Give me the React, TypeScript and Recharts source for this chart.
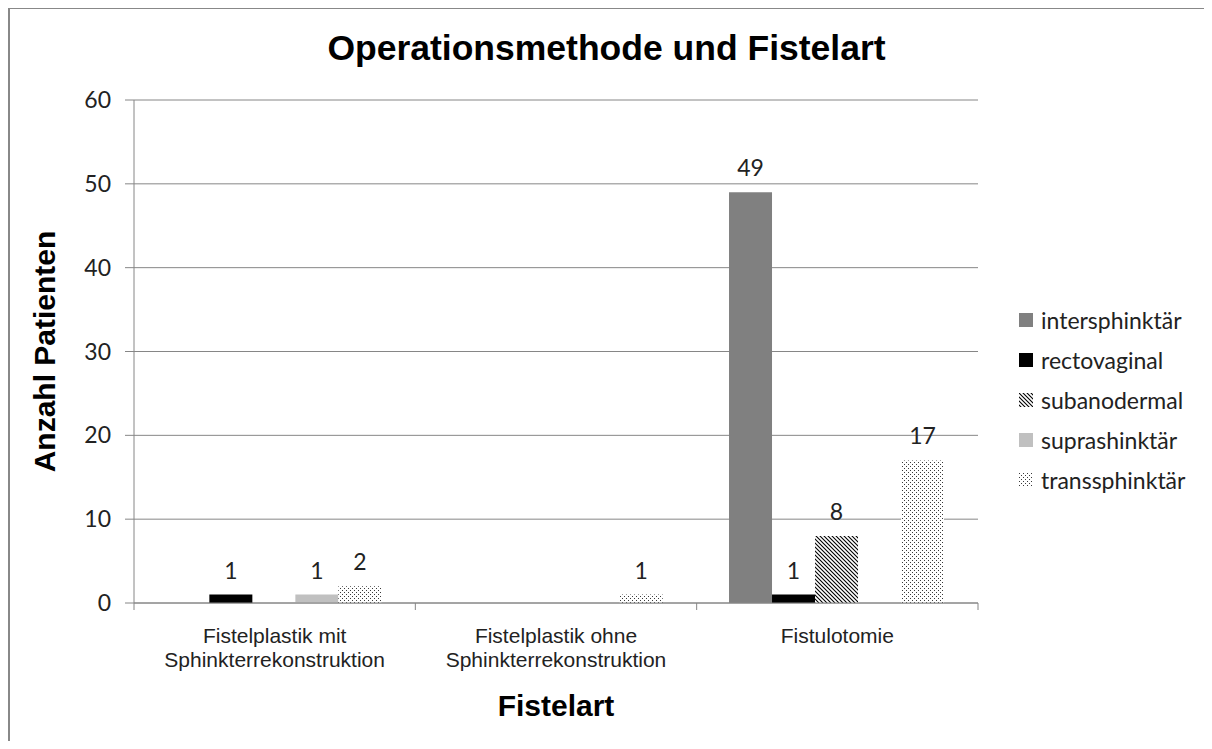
import React from 'react';
import { BarChart, Bar, XAxis, YAxis, CartesianGrid, Legend, LabelList } from 'recharts';

// Fistelart categories (x axis), line break where the original wraps
const categories = [
  'Fistelplastik mit\nSphinkterrekonstruktion',
  'Fistelplastik ohne\nSphinkterrekonstruktion',
  'Fistulotomie',
];

// patients per category, null = no entry in the source table
const intersphinktaer = [null, null, 49];
const rectovaginal = [1, null, 1];
const subanodermal = [null, null, 8];
const suprashinktaer = [1, null, null];
const transsphinktaer = [2, 1, 17];

const yTicks = [0, 10, 20, 30, 40, 50, 60];

const series = [
  { key: 'intersphinktär', values: intersphinktaer, fill: '#808080' },
  { key: 'rectovaginal', values: rectovaginal, fill: '#000000' },
  { key: 'subanodermal', values: subanodermal, fill: 'url(#hatch)' },
  { key: 'suprashinktär', values: suprashinktaer, fill: '#c0c0c0' },
  { key: 'transsphinktär', values: transsphinktaer, fill: 'url(#dots)' },
];

const data = categories.map((name, i) => {
  const row: any = { name };
  series.forEach((s) => {
    row[s.key] = s.values[i];
  });
  return row;
});

const GRID = '#868686';
const TEXT = '#222222';
const CALIBRI = 'Lato, "Open Sans", sans-serif';
const ARIAL = '"Liberation Sans", Arial, sans-serif';

const PatternDefs = () => (
  <defs>
    <pattern id="hatch" patternUnits="userSpaceOnUse" width="4" height="4">
      <rect width="4" height="4" fill="#ffffff" />
      <path d="M-1,-1 L5,5 M3,-1 L5,1 M-1,3 L1,5" stroke="#000" strokeWidth="1.1" />
    </pattern>
    <pattern id="dots" patternUnits="userSpaceOnUse" width="4" height="4">
      <rect width="4" height="4" fill="#ffffff" />
      <rect x="0" y="0" width="1" height="1" fill="#3a3a3a" />
      <rect x="2" y="2" width="1" height="1" fill="#3a3a3a" />
    </pattern>
  </defs>
);

// x tick: two-line label plus the tick marks at the category borders
const CategoryTick = (props: any) => {
  const { x, y, payload, index, visibleTicksCount, width } = props;
  const half = payload.offset || width / visibleTicksCount / 2;
  const lines = String(payload.value).split('\n');
  return (
    <g>
      <line x1={x - half} x2={x - half} y1={y} y2={y + 7} stroke={GRID} />
      {index === visibleTicksCount - 1 && (
        <line x1={x + half} x2={x + half} y1={y} y2={y + 7} stroke={GRID} />
      )}
      <text x={x} y={y} textAnchor="middle" fill={TEXT} fontFamily={ARIAL} fontSize={21}>
        {lines.map((l, i) => (
          <tspan key={i} x={x} dy={i === 0 ? 40 : 24}>
            {l}
          </tspan>
        ))}
      </text>
    </g>
  );
};

const LegendBox = () => (
  <div style={{ fontFamily: CALIBRI, fontSize: 23, color: TEXT }}>
    {series.map((s) => (
      <div key={s.key} style={{ display: 'flex', alignItems: 'center', height: 40 }}>
        <svg width={14} height={14} style={{ marginRight: 8 }}>
          <rect width={14} height={14} fill={s.fill} />
        </svg>
        <span>{s.key}</span>
      </div>
    ))}
  </div>
);

export default function App() {
  return (
    <div style={{ position: 'relative', width: 1196, height: 733, background: '#fff' }}>
      {/* frame: only the left and top edges are inside the picture */}
      <div style={{ position: 'absolute', left: 0, top: -1, width: 1204, height: 2, background: '#888' }} />
      <div style={{ position: 'absolute', left: 0, top: -1, width: 2, height: 734, background: '#888' }} />
      <div
        style={{
          position: 'absolute',
          left: 0,
          top: 23,
          width: 1197,
          textAlign: 'center',
          fontFamily: ARIAL,
          fontWeight: 'bold',
          fontSize: 35.5,
          lineHeight: '35px',
          color: '#000',
          zIndex: 1,
        }}
      >
        Operationsmethode und Fistelart
      </div>
      <BarChart
        width={1196}
        height={733}
        data={data}
        margin={{ top: 92, right: 226, bottom: 0, left: 0 }}
        barCategoryGap="11.5%"
        barGap={0}
        accessibilityLayer={false}
        style={{ outline: 'none' }}
      >
        <PatternDefs />
        <CartesianGrid vertical={false} stroke={GRID} />
        <XAxis
          dataKey="name"
          stroke={GRID}
          tickLine={false}
          tickSize={0}
          tickMargin={0}
          height={138}
          interval={0}
          tick={<CategoryTick />}
          label={{
            value: 'Fistelart',
            position: 'insideBottom',
            offset: 25,
            fill: '#000',
            fontFamily: ARIAL,
            fontWeight: 'bold',
            fontSize: 30,
          }}
        />
        <YAxis
          width={126}
          domain={[0, 60]}
          ticks={yTicks}
          stroke={GRID}
          tickSize={9}
          tickMargin={14}
          tick={{ fill: TEXT, fontFamily: CALIBRI, fontSize: 23 }}
          label={{
            value: 'Anzahl Patienten',
            angle: -90,
            position: 'insideLeft',
            offset: 36,
            fill: '#000',
            fontFamily: ARIAL,
            fontWeight: 'bold',
            fontSize: 30,
            style: { textAnchor: 'middle' },
          }}
        />
        <Legend
          layout="vertical"
          align="center"
          verticalAlign="middle"
          wrapperStyle={{ left: 1011, top: 292, width: 185 }}
          content={<LegendBox />}
        />
        {series.map((s) => (
          <Bar key={s.key} dataKey={s.key} fill={s.fill} isAnimationActive={false}>
            <LabelList
              dataKey={s.key}
              position="top"
              offset={16}
              fill={TEXT}
              fontFamily={CALIBRI}
              fontSize={23}
            />
          </Bar>
        ))}
      </BarChart>
    </div>
  );
}
